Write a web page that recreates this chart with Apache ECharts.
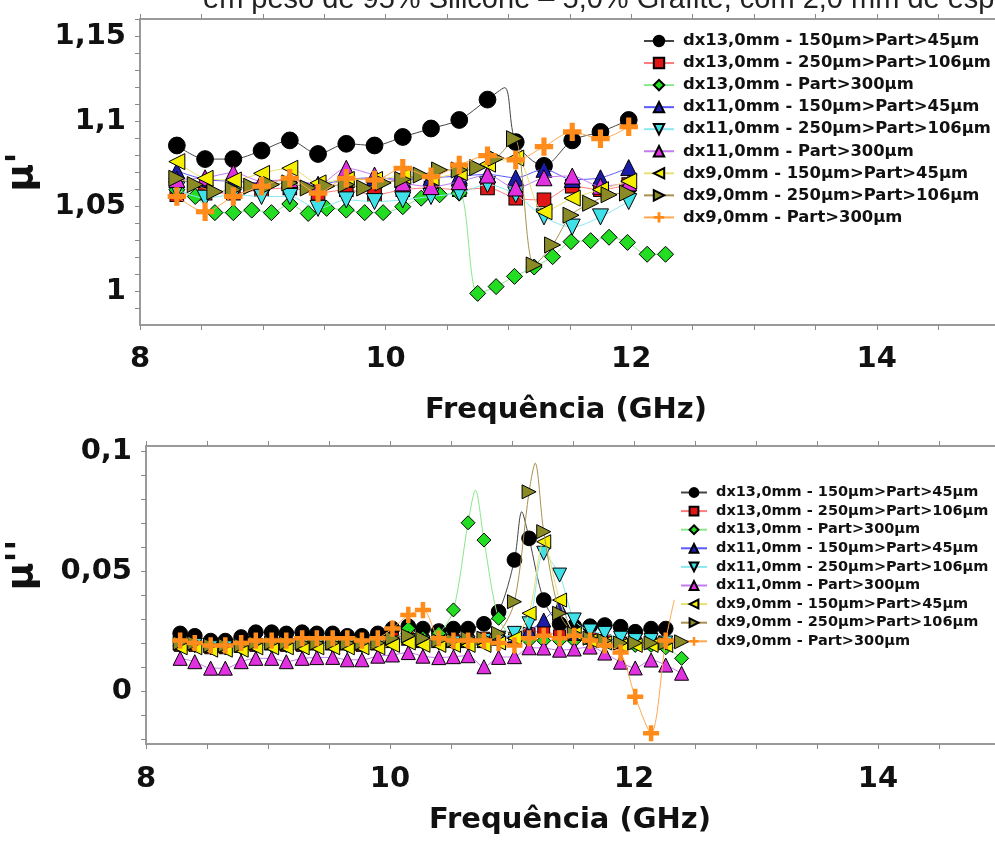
<!DOCTYPE html>
<html><head><meta charset="utf-8">
<script src="https://cdn.jsdelivr.net/npm/echarts@6/dist/echarts.min.js"></script>
<style>html,body{margin:0;padding:0;background:#fff;}#c{width:995px;height:841px;}</style>
</head><body><div id="c"></div>
<script>
// ---------- text ----------
const titleText = "em peso de 95% Silicone – 5,0% Grafite, com 2,0 mm de esp";
const xTitle = "Frequência (GHz)";
const yTitleTop = "μ'";
const yTitleBottom = "μ''";
const seriesNames = [
  "dx13,0mm - 150µm>Part>45µm",
  "dx13,0mm - 250µm>Part>106µm",
  "dx13,0mm - Part>300µm",
  "dx11,0mm - 150µm>Part>45µm",
  "dx11,0mm - 250µm>Part>106µm",
  "dx11,0mm - Part>300µm",
  "dx9,0mm - 150µm>Part>45µm",
  "dx9,0mm - 250µm>Part>106µm",
  "dx9,0mm - Part>300µm"
];
// ---------- ticks ----------
const xTickLabels = [8, 10, 12, 14];
const xTicks = [8, 8.5, 9, 9.5, 10, 10.5, 11, 11.5, 12, 12.5, 13, 13.5, 14, 14.5];
const topYLabels = [1, 1.05, 1.1, 1.15];
const topYTicks = [0.99, 1.00, 1.01, 1.02, 1.03, 1.04, 1.05, 1.06, 1.07, 1.08, 1.09, 1.10, 1.11, 1.12, 1.13, 1.14, 1.15, 1.16];
const botYLabels = [0, 0.05, 0.1];
const botYTicks = [-0.02, -0.01, 0, 0.01, 0.02, 0.03, 0.04, 0.05, 0.06, 0.07, 0.08, 0.09, 0.10];

// ---------- top panel (μ') ----------
const freqTopA = [8.30, 8.53, 8.76, 8.99, 9.22, 9.45, 9.68, 9.91, 10.14, 10.37, 10.60, 10.83, 11.06, 11.29, 11.52, 11.75, 11.98];
const freqTopB = [8.30, 8.45, 8.61, 8.76, 8.91, 9.07, 9.22, 9.37, 9.52, 9.68, 9.83, 9.98, 10.14, 10.29, 10.44, 10.60, 10.75, 10.90, 11.05, 11.21, 11.36, 11.51, 11.67, 11.82, 11.97, 12.13, 12.28];
const top_dx13_150 = [1.086, 1.078, 1.078, 1.083, 1.089, 1.081, 1.087, 1.086, 1.091, 1.096, 1.101, 1.113, 1.088, 1.074, 1.089, 1.094, 1.101];
const top_dx13_250 = [1.057, 1.058, 1.058, 1.060, 1.061, 1.058, 1.060, 1.057, 1.060, 1.061, 1.060, 1.061, 1.055, 1.054, 1.062, 1.060, 1.063];
const top_dx13_300 = [1.060, 1.056, 1.0465, 1.0465, 1.048, 1.0465, 1.0516, 1.046, 1.049, 1.048, 1.0465, 1.0465, 1.050, 1.055, 1.057, 1.058, 0.999, 1.003, 1.009, 1.0145, 1.0206, 1.0294, 1.030, 1.032, 1.029, 1.022, 1.022];
const top_dx11_150 = [1.071, 1.066, 1.065, 1.064, 1.066, 1.063, 1.066, 1.067, 1.066, 1.067, 1.068, 1.069, 1.067, 1.072, 1.066, 1.067, 1.073];
const top_dx11_250 = [1.060, 1.055, 1.057, 1.056, 1.056, 1.049, 1.054, 1.053, 1.054, 1.056, 1.058, 1.063, 1.057, 1.044, 1.038, 1.044, 1.053];
const top_dx11_300 = [1.066, 1.067, 1.070, 1.065, 1.066, 1.063, 1.0726, 1.0686, 1.064, 1.0618, 1.0647, 1.0686, 1.061, 1.067, 1.068, 1.062, 1.064];
const top_dx9_150 = [1.0765, 1.0667, 1.0657, 1.0696, 1.0726, 1.064, 1.066, 1.066, 1.068, 1.067, 1.070, 1.075, 1.0786, 1.047, 1.055, 1.060, 1.065];
const top_dx9_250 = [1.0667, 1.063, 1.0588, 1.060, 1.062, 1.063, 1.064, 1.061, 1.062, 1.063, 1.061, 1.064, 1.066, 1.0686, 1.0716, 1.0716, 1.073, 1.0785, 1.090, 1.0157, 1.0275, 1.045, 1.052, 1.057, 1.058, null, null];
const top_dx9_300 = [1.056, 1.047, 1.056, 1.062, 1.0667, 1.058, 1.0667, 1.0657, 1.0726, 1.0677, 1.0745, 1.080, 1.0775, 1.0853, 1.094, 1.090, 1.097];
const topPeakF_dx13_150 = [10.97];
const topPeakV_dx13_150 = [1.12];

// ---------- bottom panel (μ'') ----------
const freqBot = [8.28, 8.40, 8.53, 8.65, 8.78, 8.90, 9.03, 9.15, 9.28, 9.40, 9.53, 9.65, 9.77, 9.90, 10.02, 10.15, 10.27, 10.40, 10.52, 10.64, 10.77, 10.89, 11.02, 11.14, 11.26, 11.39, 11.51, 11.64, 11.76, 11.89, 12.01, 12.14, 12.26, 12.39];
const bot_dx13_150 = [0.024, 0.023, 0.021, 0.021, 0.0225, 0.0245, 0.0245, 0.024, 0.0245, 0.024, 0.024, 0.023, 0.023, 0.024, 0.026, 0.027, 0.026, 0.025, 0.026, 0.026, 0.028, 0.033, 0.0546, 0.0636, 0.0379, 0.028, 0.027, 0.027, 0.0275, 0.0268, 0.0247, 0.026, 0.026, null];
const bot_dx13_250 = [0.019, 0.019, 0.018, 0.018, 0.019, 0.019, 0.020, 0.019, 0.019, 0.020, 0.020, 0.020, 0.019, 0.020, 0.022, 0.023, 0.021, 0.021, 0.021, 0.021, 0.022, 0.022, 0.022, 0.024, 0.025, 0.023, 0.023, 0.022, 0.021, 0.020, 0.020, 0.020, 0.020, null];
const bot_dx13_300 = [0.019, 0.019, 0.018, 0.018, 0.018, 0.019, 0.019, 0.019, 0.019, 0.019, 0.019, 0.019, 0.019, 0.019, 0.021, 0.026, 0.022, 0.024, 0.0338, 0.0701, 0.0629, 0.0303, 0.022, 0.021, 0.021, 0.021, 0.021, 0.021, 0.020, 0.020, 0.019, 0.019, 0.018, 0.0136];
const bot_dx11_150 = [0.020, 0.020, 0.019, 0.019, 0.019, 0.020, 0.020, 0.020, 0.020, 0.020, 0.020, 0.020, 0.020, 0.020, 0.021, 0.022, 0.021, 0.021, 0.021, 0.021, 0.021, 0.022, 0.023, 0.025, 0.0296, 0.035, 0.024, 0.023, 0.022, 0.021, 0.021, 0.021, 0.021, null];
const bot_dx11_250 = [0.019, 0.019, 0.018, 0.018, 0.018, 0.019, 0.019, 0.019, 0.019, 0.019, 0.019, 0.019, 0.019, 0.019, 0.020, 0.021, 0.020, 0.020, 0.020, 0.020, 0.021, 0.022, 0.024, 0.028, 0.0574, 0.0483, 0.0296, 0.025, 0.024, 0.022, 0.021, 0.021, 0.020, null];
const bot_dx11_300 = [0.0136, 0.0122, 0.0095, 0.0095, 0.0122, 0.0136, 0.0136, 0.0122, 0.0136, 0.0139, 0.014, 0.013, 0.013, 0.0145, 0.015, 0.016, 0.0145, 0.0139, 0.0143, 0.0147, 0.0101, 0.014, 0.0143, 0.018, 0.0179, 0.017, 0.0175, 0.0183, 0.0158, 0.012, 0.0096, 0.0129, 0.0108, 0.0074];
const bot_dx9_150 = [0.018, 0.018, 0.017, 0.017, 0.017, 0.018, 0.018, 0.018, 0.018, 0.018, 0.018, 0.018, 0.018, 0.018, 0.019, 0.020, 0.019, 0.019, 0.019, 0.019, 0.019, 0.020, 0.022, 0.0324, 0.0622, 0.0379, 0.024, 0.021, 0.020, 0.019, 0.019, 0.019, 0.019, null];
const bot_dx9_250 = [0.020, 0.020, 0.019, 0.019, 0.019, 0.020, 0.020, 0.020, 0.020, 0.020, 0.020, 0.020, 0.020, 0.020, 0.022, 0.023, 0.022, 0.021, 0.021, 0.022, 0.022, 0.024, 0.0372, 0.083, 0.0664, 0.0324, 0.024, 0.022, 0.021, 0.020, 0.020, 0.020, 0.020, 0.0205];
const bot_dx9_300 = [0.021, 0.020, 0.019, 0.019, 0.020, 0.021, 0.021, 0.021, 0.022, 0.022, 0.022, 0.022, 0.021, 0.022, 0.026, 0.0317, 0.0337, 0.022, 0.021, 0.021, 0.021, 0.020, 0.019, 0.022, 0.023, 0.022, 0.023, 0.021, 0.019, 0.016, -0.0024, -0.0176, 0.021, null];
const botPeakF_dx13_150 = [11.08];
const botPeakV_dx13_150 = [0.0747];
const botPeakF_dx13_300 = [10.70];
const botPeakV_dx13_300 = [0.0837];
const botPeakF_dx9_250 = [11.19];
const botPeakV_dx9_250 = [0.095];
const botPeakF_dx9_300 = [12.33];
const botPeakV_dx9_300 = [0.038];

// ---------- styling ----------
const FONT = '"DejaVu Sans", Verdana, sans-serif';
const triUp = 'path://M5,0 L10,10 L0,10 Z';
const triDown = 'path://M0,0 L10,0 L5,10 Z';
const triLeft = 'path://M0,5 L10,0 L10,10 Z';
const triRight = 'path://M0,0 L10,5 L0,10 Z';
const plus = 'path://M3.6,0 H6.4 V3.6 H10 V6.4 H6.4 V10 H3.6 V6.4 H0 V3.6 H3.6 Z';
const symbols = ['circle', 'rect', 'diamond', triUp, triDown, triUp, triLeft, triRight, plus];
const fills = ['#000000', '#e01515', '#22dd22', '#1c1ca8', '#40e0e8', '#e030e0', '#f4f000', '#8a8a26', '#ff8c1a'];
const lineCols = ['#444444', '#ff7a7a', '#8ae88a', '#5a5aff', '#8ae8f0', '#c47af0', '#e8e070', '#a89050', '#ffa850'];
const sizeScale = [1.05, 0.85, 1, 1, 1, 1, 1, 1, 1.15];

function build(fs, vs, exF, exV) {
  const pts = [];
  fs.forEach((f, i) => { if (vs[i] !== null && vs[i] !== undefined) pts.push({ value: [f, vs[i]] }); });
  if (exF) exF.forEach((f, i) => pts.push({ value: [f, exV[i]], symbol: 'none' }));
  pts.sort((a, b) => a.value[0] - b.value[0]);
  return pts;
}

const topData = [
  build(freqTopA, top_dx13_150, topPeakF_dx13_150, topPeakV_dx13_150),
  build(freqTopA, top_dx13_250),
  build(freqTopB, top_dx13_300),
  build(freqTopA, top_dx11_150),
  build(freqTopA, top_dx11_250),
  build(freqTopA, top_dx11_300),
  build(freqTopA, top_dx9_150),
  build(freqTopB, top_dx9_250),
  build(freqTopA, top_dx9_300)
];
const botData = [
  build(freqBot, bot_dx13_150, botPeakF_dx13_150, botPeakV_dx13_150),
  build(freqBot, bot_dx13_250),
  build(freqBot, bot_dx13_300, botPeakF_dx13_300, botPeakV_dx13_300),
  build(freqBot, bot_dx11_150),
  build(freqBot, bot_dx11_250),
  build(freqBot, bot_dx11_300),
  build(freqBot, bot_dx9_150),
  build(freqBot, bot_dx9_250, botPeakF_dx9_250, botPeakV_dx9_250),
  build(freqBot, bot_dx9_300, botPeakF_dx9_300, botPeakV_dx9_300)
];

function mkSeries(data, gi, size) {
  return data.map((d, i) => ({
    name: seriesNames[i], type: 'line', xAxisIndex: gi * 2, yAxisIndex: gi,
    data: d, smooth: 0.3, symbol: symbols[i], symbolSize: size * sizeScale[i],
    showSymbol: true, showAllSymbol: true, animation: false,
    itemStyle: { color: fills[i], borderColor: i === 8 ? '#ff8c1a' : '#000', borderWidth: i === 8 ? 0 : 1 },
    lineStyle: { color: lineCols[i], width: 1 },
    emphasis: { disabled: true }, z: 2 + i
  }));
}

const commaFmt = v => String(+(+v).toFixed(3)).replace('.', ',');
const axisLine = { show: true, onZero: false, lineStyle: { color: '#9a9a9a', width: 2 } };
const tickStyle = { color: '#8a8a8a', width: 1 };
// the plot runs past the right edge of the picture: max is where the edge falls
function xAx(gi, pos, showLabel, margin, xmax) {
  return {
    gridIndex: gi, type: 'value', position: pos, min: 8, max: xmax,
    axisLine: axisLine, splitLine: { show: false },
    axisTick: { show: true, inside: false, length: 5, lineStyle: tickStyle, customValues: xTicks },
    axisLabel: { show: showLabel, margin: margin, fontSize: 29, fontWeight: 'bold', color: '#111', fontFamily: FONT,
      customValues: xTickLabels }
  };
}
function yAx(gi, min, max, ticks, labels) {
  return {
    gridIndex: gi, type: 'value', min: min, max: max,
    axisLine: axisLine, splitLine: { show: false },
    axisTick: { show: true, inside: false, length: 5, lineStyle: tickStyle, customValues: ticks },
    axisLabel: { margin: 14, fontSize: 29, fontWeight: 'bold', color: '#111', fontFamily: FONT,
      customValues: labels, formatter: commaFmt }
  };
}

const chart = echarts.init(document.getElementById('c'), null, { renderer: 'canvas' });
chart.setOption({
  animation: false,
  backgroundColor: '#ffffff',
  grid: [
    { left: 140, top: 19, right: 0, bottom: 516 },
    { left: 146, top: 446, right: 0, bottom: 97 }
  ],
  xAxis: [
    xAx(0, 'bottom', true, 20, 14.963), xAx(0, 'top', false, 8, 14.963),
    xAx(1, 'bottom', true, 21, 14.959), xAx(1, 'top', false, 8, 14.959)
  ],
  yAxis: [
    yAx(0, 0.9804, 1.1604, topYTicks, topYLabels),
    yAx(1, -0.0221, 0.1021, botYTicks, botYLabels)
  ],
  legend: [
    { data: seriesNames, orient: 'vertical', left: 638, top: 28, itemWidth: 30, itemHeight: 13, itemGap: 6.05,
      selectedMode: false, textStyle: { fontSize: 16.4, fontWeight: 'bold', fontFamily: FONT, color: '#111', padding: [0, 0, 0, 4] } },
    { data: seriesNames, orient: 'vertical', left: 675, top: 480, itemWidth: 26, itemHeight: 11, itemGap: 3.6,
      selectedMode: false, textStyle: { fontSize: 14.5, fontWeight: 'bold', fontFamily: FONT, color: '#111', padding: [0, 0, 0, 4] } }
  ],
  graphic: [
    { type: 'text', x: 203, y: 0, style: { text: titleText, font: '29px "Liberation Sans", Arial, sans-serif', fill: '#222', align: 'left', verticalAlign: 'middle' } },
    { type: 'text', x: 566, y: 410, style: { text: xTitle, font: 'bold 29px ' + FONT, fill: '#111', align: 'center', verticalAlign: 'middle' } },
    { type: 'text', x: 570, y: 820, style: { text: xTitle, font: 'bold 29px ' + FONT, fill: '#111', align: 'center', verticalAlign: 'middle' } },
    { type: 'text', x: 22, y: 172, rotation: Math.PI / 2, style: { text: yTitleTop, font: 'bold 38px ' + FONT, fill: '#111', align: 'center', verticalAlign: 'middle' } },
    { type: 'text', x: 22, y: 565, rotation: Math.PI / 2, style: { text: yTitleBottom, font: 'bold 38px ' + FONT, fill: '#111', align: 'center', verticalAlign: 'middle' } }
  ],
  series: mkSeries(topData, 0, 16).concat(mkSeries(botData, 1, 14))
});
</script>
</body></html>
